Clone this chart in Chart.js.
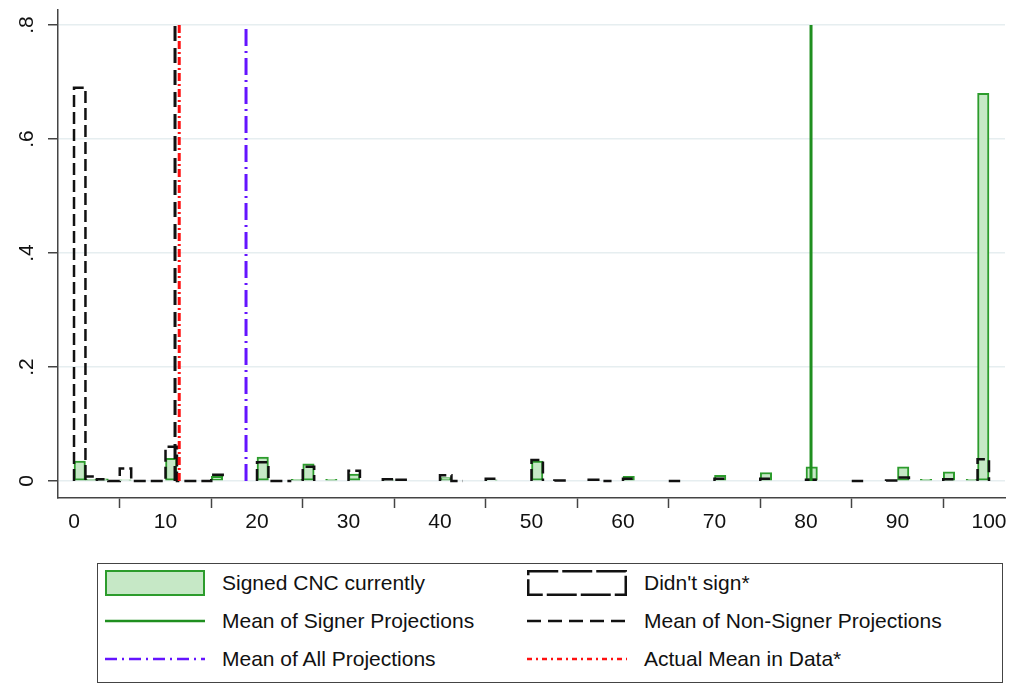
<!DOCTYPE html>
<html><head><meta charset="utf-8">
<script src="https://cdn.jsdelivr.net/npm/chart.js@4.4.1/dist/chart.umd.min.js"></script>
<style>
html,body{margin:0;padding:0;background:#fff;}
#wrap{position:relative;width:1021px;height:686px;font-family:"Liberation Sans",Arial,sans-serif;overflow:hidden;}
#c{position:absolute;left:0;top:0;}
#legend{position:absolute;left:97px;top:563px;width:906px;height:120px;border:1px solid #444;box-sizing:border-box;}
.item{position:absolute;height:38px;display:flex;align-items:center;font-size:21px;color:#111;white-space:nowrap;}
.item svg{flex:none;margin-right:17px;}
</style></head>
<body>
<div id="wrap">
<canvas id="c" width="1021" height="550"></canvas>
<div id="legend">
  <div class="item" style="left:7px;top:0px;"><svg width="100" height="26"><rect x="1" y="1" width="98" height="24" fill="#c6e8c6" stroke="#2c9c2c" stroke-width="2"/></svg><span>Signed CNC currently</span></div>
  <div class="item" style="left:429px;top:0px;"><svg width="100" height="26"><rect x="1.25" y="1.25" width="97.5" height="23.5" fill="none" stroke="#111" stroke-width="2.5" stroke-dasharray="30 4"/></svg><span>Didn't sign*</span></div>
  <div class="item" style="left:7px;top:38px;"><svg width="100" height="26"><line x1="0" y1="13" x2="100" y2="13" stroke="#1f8f1f" stroke-width="2.5"/></svg><span>Mean of Signer Projections</span></div>
  <div class="item" style="left:429px;top:38px;"><svg width="100" height="26"><line x1="0" y1="13" x2="100" y2="13" stroke="#111" stroke-width="2.5" stroke-dasharray="14 7"/></svg><span>Mean of Non-Signer Projections</span></div>
  <div class="item" style="left:7px;top:76px;"><svg width="100" height="26"><line x1="0" y1="13" x2="100" y2="13" stroke="#6414ff" stroke-width="2.5" stroke-dasharray="12 5 2 5"/></svg><span>Mean of All Projections</span></div>
  <div class="item" style="left:429px;top:76px;"><svg width="100" height="26"><line x1="0" y1="13" x2="100" y2="13" stroke="#ff1010" stroke-width="2.5" stroke-dasharray="5 4 2 4"/></svg><span>Actual Mean in Data*</span></div>
</div>
</div>
<script>
// ---- data (fraction per bin, bins of width 1.25 from 0 to 100; null = no bar drawn)
const binWidth = 1.25;
const signedCNC = [
  0.035, 0.003, 0.004, null, 0.002, null, null, null, 0.040, null,   // bins 0-9
  null, null, 0.008, null, null, null, 0.042, null, null, 0.003,     // 10-19
  0.030, null, 0.003, null, 0.012, null, null, 0.002, null, null,    // 20-29
  null, null, 0.006, null, null, null, 0.002, null, null, null,      // 30-39
  0.035, null, null, null, null, null, null, null, 0.008, null,      // 40-49
  null, null, null, null, null, null, 0.010, null, null, null,       // 50-59
  0.015, null, null, null, 0.025, null, null, null, null, null,      // 60-69
  null, null, 0.025, null, 0.003, null, 0.016, null, 0.003, 0.680    // 70-79
];
const didntSign = [
  0.690, 0.008, 0.003, 0, 0.022, 0, 0, 0, 0.060, 0,                  // 0-9
  0, 0, 0.011, null, null, null, 0.033, 0, 0, null,                  // 10-19
  0.025, null, null, null, 0.018, null, null, 0.003, 0.002, null,    // 20-29
  null, null, 0.010, 0, null, null, 0.004, null, null, null,         // 30-39
  0.037, null, 0.001, null, null, 0.002, 0, null, 0.004, null,       // 40-49
  null, null, 0, null, null, null, 0.004, null, null, null,          // 50-59
  0.004, null, null, null, 0.002, null, null, null, 0, null,         // 60-69
  null, 0.001, 0.006, null, null, null, 0.003, null, null, 0.038     // 70-79
];
const meanSignerProj = 80.55;
const meanNonSignerProj = 11.04;
const meanAllProj = 18.8;
const actualMeanData = 11.5;
const xTicks = [0, 10, 20, 30, 40, 50, 60, 70, 80, 90, 100];
const yTicks = [0, 0.2, 0.4, 0.6, 0.8];
const yTickLabels = ['0', '.2', '.4', '.6', '.8'];

// ---- build library datasets
const greenBars = signedCNC.map((v, i) => ({x: (i + 0.5) * binWidth, y: v === null ? 0 : v}));
const blackPath = [];
didntSign.forEach((v, i) => {
  if (v === null) return;
  const l = i * binWidth, r = (i + 1) * binWidth;
  if (blackPath.length && blackPath[blackPath.length - 1].x !== l) blackPath.push({x: l, y: null});
  blackPath.push({x: l, y: 0}, {x: l, y: v}, {x: r, y: v}, {x: r, y: 0});
});
const vline = m => [{x: m, y: 0}, {x: m, y: 0.8}];

const FONT = '"Liberation Sans", Arial, sans-serif';
new Chart(document.getElementById('c'), {
  type: 'bar',
  data: {
    datasets: [
      {type: 'line', data: vline(actualMeanData), borderColor: '#ff1010', borderWidth: 3, borderDash: [8, 3, 2, 3], pointRadius: 0, order: 1},
      {type: 'line', data: vline(meanNonSignerProj), borderColor: '#111', borderWidth: 3, borderDash: [15, 7], pointRadius: 0, order: 2},
      {type: 'line', data: vline(meanAllProj), borderColor: '#6414ff', borderWidth: 3, borderDash: [17, 5, 2, 5], pointRadius: 0, order: 3},
      {type: 'line', data: vline(meanSignerProj), borderColor: '#1f8f1f', borderWidth: 3, pointRadius: 0, order: 4},
      {type: 'line', data: blackPath, borderColor: '#111', borderWidth: 2.5, borderDash: [12, 5], pointRadius: 0, spanGaps: false, tension: 0, order: 5},
      {type: 'bar', data: greenBars, backgroundColor: '#c6e8c6', borderColor: '#2c9c2c', borderWidth: 2, borderSkipped: false, barPercentage: 1, categoryPercentage: 1, grouped: false, order: 6}
    ]
  },
  options: {
    responsive: false,
    animation: false,
    devicePixelRatio: 1,
    layout: {autoPadding: false, padding: {top: 10, right: 16, left: 0, bottom: 0}},
    plugins: {legend: {display: false}, tooltip: {enabled: false}},
    scales: {
      x: {
        type: 'linear', min: -1.75, max: 101.75, offset: false,
        afterBuildTicks: s => { s.ticks = xTicks.map(v => ({value: v})); },
        afterFit: s => { s.height = 52; },
        ticks: {font: {family: FONT, size: 21}, color: '#111', padding: 2, maxRotation: 0, callback: v => String(v)},
        grid: {drawOnChartArea: false, tickLength: 10, tickColor: '#444', tickWidth: 1.5},
        border: {display: true, color: '#444', width: 1.5}
      },
      y: {
        type: 'linear', min: -0.0298, max: 0.8263,
        afterBuildTicks: s => { s.ticks = yTicks.map(v => ({value: v})); },
        afterFit: s => { s.width = 58; s.paddingTop = 0; s.paddingBottom = 0; },
        ticks: {font: {family: FONT, size: 21}, color: '#111', padding: 12, minRotation: 90, maxRotation: 90, crossAlign: 'center',
          callback: (v) => { const i = yTicks.findIndex(t => Math.abs(t - v) < 1e-9); return i >= 0 ? yTickLabels[i] : ''; }},
        grid: {color: '#e6eef0', lineWidth: 1.5, tickLength: 10, tickColor: '#444', tickWidth: 1.5},
        border: {display: true, color: '#444', width: 1.5}
      }
    }
  }
});
</script>
</body></html>
